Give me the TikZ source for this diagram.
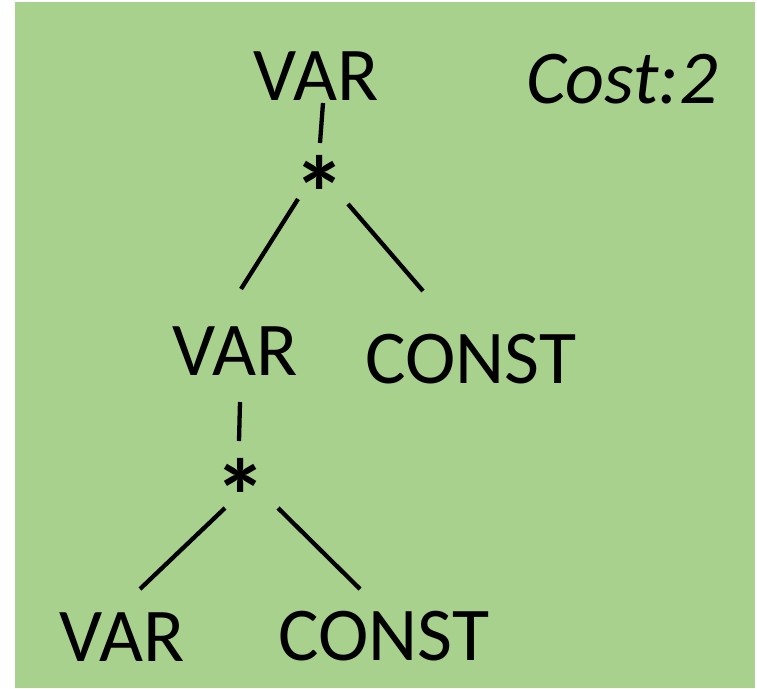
\documentclass[tikz,border=0pt]{standalone}
\usepackage{fontspec}
\setmainfont{Carlito}
\definecolor{bggreen}{HTML}{A9D18E}
\begin{document}
\begin{tikzpicture}[x=1pt,y=-1pt,
  lbl/.style={inner sep=0pt,anchor=base,font=\fontsize{76}{86}\selectfont},
  star/.style={inner sep=0pt,anchor=base,font=\fontsize{105}{110}\selectfont\bfseries},
  edge/.style={line width=4.3pt}]
\useasboundingbox (0,0) rectangle (757,688);
\fill[bggreen] (15,2) rectangle (755,688);
% labels
\node[lbl] (v1) at (316,100) {VAR};
\node[lbl,font=\fontsize{76}{86}\selectfont\itshape] (cost) at (622,103) {Cost:2};
\node[star] (s1) at (320,230) {*};
\node[lbl] (v2) at (235,375) {VAR};
\node[lbl] (c2) at (471,383) {CONST};
\node[star] (s2) at (241,533) {*};
\node[lbl] (v3) at (122,661) {VAR};
\node[lbl] (c3) at (384,660) {CONST};
% edge endpoints
\coordinate (a1) at (323,103); \coordinate (b1) at (320,143);
\coordinate (a2) at (298,199); \coordinate (b2) at (241,289);
\coordinate (a3) at (348,204); \coordinate (b3) at (423,291);
\coordinate (a4) at (240,402); \coordinate (b4) at (239,441);
\coordinate (a5) at (225,508); \coordinate (b5) at (140,589);
\coordinate (a6) at (278,508); \coordinate (b6) at (360,589);
\draw[edge] (a1) -- (b1);
\draw[edge] (a2) -- (b2);
\draw[edge] (a3) -- (b3);
\draw[edge] (a4) -- (b4);
\draw[edge] (a5) -- (b5);
\draw[edge] (a6) -- (b6);
\end{tikzpicture}
\end{document}
